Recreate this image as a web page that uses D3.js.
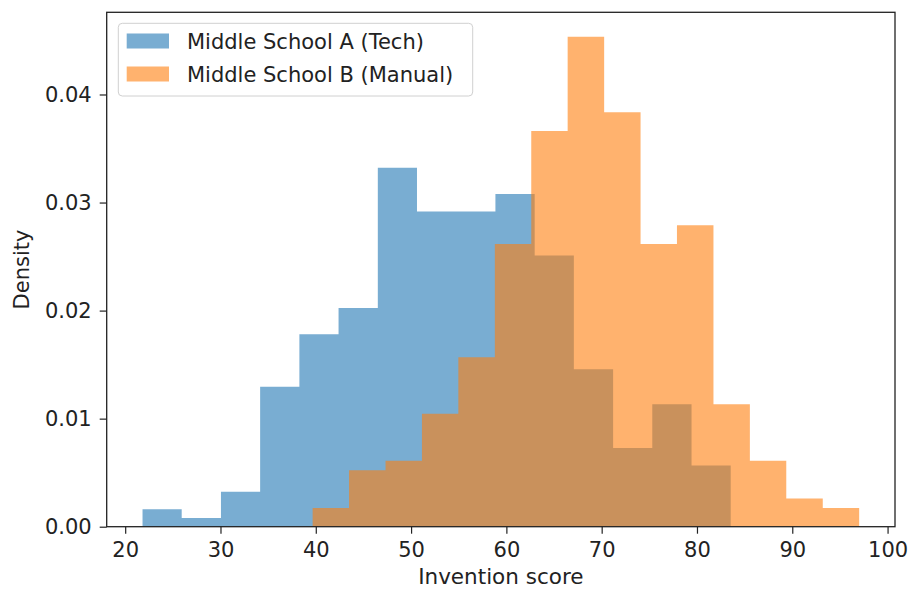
<!DOCTYPE html>
<html>
<head>
<meta charset="utf-8">
<script src="https://cdn.jsdelivr.net/npm/d3@7"></script>
<style>
  html, body { margin: 0; padding: 0; background: #fff; }
  svg { display: block; font-family: "DejaVu Sans", sans-serif; }
</style>
</head>
<body>
<svg id="chart" width="909" height="590"></svg>
<script>
// ---- Data ----
const seriesNames = ["Middle School A (Tech)", "Middle School B (Manual)"];
const blueEdges = [21.82, 25.93, 30.05, 34.16, 38.28, 42.39, 46.51, 50.62, 54.74, 58.85, 62.97, 67.08, 71.20, 75.31, 79.43, 83.54];
const blueDensity = [0.00162, 0.00081, 0.00324, 0.01296, 0.01782, 0.02025, 0.03321, 0.02916, 0.02916, 0.03078, 0.02511, 0.01458, 0.00729, 0.01134, 0.00567];
const orangeEdges = [39.67, 43.49, 47.32, 51.14, 54.96, 58.79, 62.61, 66.43, 70.26, 74.08, 77.90, 81.73, 85.55, 89.37, 93.20, 97.02];
const orangeDensity = [0.00174, 0.00523, 0.00610, 0.01046, 0.01569, 0.02616, 0.03662, 0.04534, 0.03836, 0.02616, 0.02790, 0.01133, 0.00610, 0.00262, 0.00174];
const xTicks = [20, 30, 40, 50, 60, 70, 80, 90, 100];
const yTicks = [0, 0.01, 0.02, 0.03, 0.04];
const xLabel = "Invention score";
const yLabel = "Density";
const colors = ["#1f77b4", "#ff7f0e"];

// ---- Layout ----
const W = 909, H = 590;
const m = { left: 106.7, right: 14, top: 12.3, bottom: 63.3 };
const iw = W - m.left - m.right, ih = H - m.top - m.bottom;
const FS = 21;

const svg = d3.select("#chart");
const g = svg.append("g").attr("transform", `translate(${m.left},${m.top})`);

const xMin = Math.min(blueEdges[0], orangeEdges[0]);
const xMax = Math.max(blueEdges[blueEdges.length - 1], orangeEdges[orangeEdges.length - 1]);
const xPad = (xMax - xMin) * 0.05;
const x = d3.scaleLinear().domain([xMin - xPad, xMax + xPad]).range([0, iw]);
const yMax = d3.max([...blueDensity, ...orangeDensity]) * 1.05;
const y = d3.scaleLinear().domain([0, yMax]).range([ih, 0]);

// Each histogram drawn as one step-shaped area (no seams between bins)
function stepPoints(edges, dens) {
  return edges.map((e, i) => ({ x: e, d: i < dens.length ? dens[i] : dens[dens.length - 1] }));
}
const area = d3.area()
  .x(d => x(d.x))
  .y0(y(0))
  .y1(d => y(d.d))
  .curve(d3.curveStepAfter);

const series = [stepPoints(blueEdges, blueDensity), stepPoints(orangeEdges, orangeDensity)];
series.forEach((s, k) => {
  g.append("path").datum(s)
    .attr("d", area)
    .attr("fill", colors[k])
    .attr("fill-opacity", 0.6);
});

// Axes
const xAxis = d3.axisBottom(x).tickValues(xTicks).tickFormat(d3.format("d")).tickSize(7).tickPadding(8);
const yAxis = d3.axisLeft(y).tickValues(yTicks).tickFormat(d3.format(".2f")).tickSize(7).tickPadding(8);

const gx = g.append("g").attr("transform", `translate(0,${ih})`).call(xAxis);
const gy = g.append("g").call(yAxis);
[gx, gy].forEach(a => {
  a.select(".domain").remove();
  a.selectAll(".tick line").attr("stroke", "#222").attr("stroke-width", 1.2);
  a.selectAll(".tick text").attr("fill", "#222").style("font-size", FS + "px").style("font-family", "DejaVu Sans");
});

// Frame
g.append("rect").attr("x", 0).attr("y", 0).attr("width", iw).attr("height", ih)
  .attr("fill", "none").attr("stroke", "#222").attr("stroke-width", 1.3);

// Axis labels
svg.append("text").attr("x", m.left + iw / 2).attr("y", 584)
  .attr("text-anchor", "middle").attr("fill", "#222").style("font-size", "21.5px").text(xLabel);
svg.append("text").attr("transform", `translate(29,${m.top + ih / 2}) rotate(-90)`)
  .attr("text-anchor", "middle").attr("fill", "#222").style("font-size", "21px").text(yLabel);

// Legend
const lg = svg.append("g");
lg.append("rect").attr("x", 118.3).attr("y", 23.3).attr("width", 354.4).attr("height", 72.7)
  .attr("rx", 4).attr("fill", "#fff").attr("fill-opacity", 0.8).attr("stroke", "#d0d0d0").attr("stroke-width", 1);
seriesNames.forEach((name, i) => {
  const cy = 41 + i * 33;
  lg.append("rect").attr("x", 126.7).attr("y", cy - 7.5).attr("width", 42.3).attr("height", 15)
    .attr("fill", colors[i]).attr("fill-opacity", 0.6);
  lg.append("text").attr("x", 187).attr("y", cy).attr("dy", "0.36em")
    .attr("fill", "#222").style("font-size", FS + "px").text(name);
});
</script>
</body>
</html>
